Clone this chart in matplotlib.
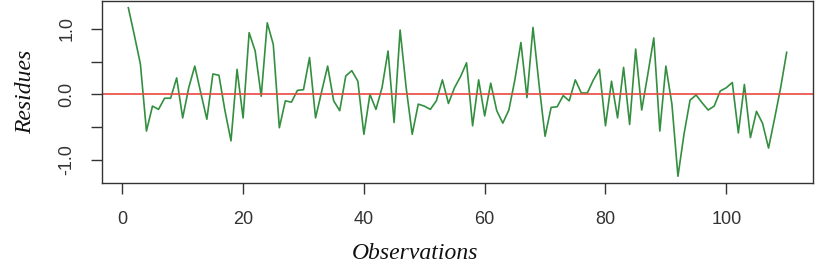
import numpy as np
import matplotlib.pyplot as plt

# residues, observations 1..110
residues = [
    1.32, 0.90, 0.46, -0.56, -0.18, -0.23, -0.06, -0.06, 0.25, -0.36,
    0.10, 0.43, 0.02, -0.38, 0.31, 0.29, -0.25, -0.71, 0.38, -0.36,
    0.94, 0.66, -0.03, 1.09, 0.76, -0.51, -0.10, -0.12, 0.06, 0.07,
    0.56, -0.36, 0.04, 0.43, -0.10, -0.25, 0.28, 0.36, 0.20, -0.61,
    0.00, -0.23, 0.10, 0.66, -0.43, 0.98, 0.10, -0.61, -0.15, -0.18,
    -0.23, -0.10, 0.22, -0.14, 0.10, 0.27, 0.48, -0.48, 0.22, -0.33,
    0.17, -0.25, -0.44, -0.24, 0.22, 0.79, -0.05, 1.02, 0.15, -0.64,
    -0.20, -0.19, -0.02, -0.10, 0.22, 0.02, 0.02, 0.22, 0.38, -0.48,
    0.20, -0.36, 0.41, -0.46, 0.69, -0.24, 0.30, 0.86, -0.56, 0.43,
    -0.15, -1.25, -0.61, -0.09, -0.01, -0.13, -0.24, -0.18, 0.05, 0.10,
    0.18, -0.59, 0.15, -0.66, -0.26, -0.44, -0.82, -0.37, 0.10, 0.64,
]
observations = np.arange(1, len(residues) + 1)

x_ticks = [0, 20, 40, 60, 80, 100]
y_ticks = [-1.0, -0.5, 0.0, 0.5, 1.0]
y_tick_labels = ["-1.0", "", "0.0", "", "1.0"]

fig = plt.figure(figsize=(8.18, 2.66), dpi=100)
ax = fig.add_axes([102 / 818, 1 - 183 / 266, 711 / 818, 182 / 266])

ax.plot(observations, residues, color="#338f3f", lw=1.2)
ax.axhline(0, color="#e94a40", lw=1.2)
ax.margins(x=0.04, y=0.04)

ax.set_xticks(x_ticks)
ax.set_yticks(y_ticks)
ax.set_yticklabels(y_tick_labels, rotation=90, va="center")
ax.tick_params(direction="out", length=8, width=1, color="#333333",
               labelsize=13, labelcolor="#333333")
ax.tick_params(axis="x", pad=12)
ax.tick_params(axis="y", pad=11)
for lab in ax.get_xticklabels() + ax.get_yticklabels():
    lab.set_family("Liberation Sans")

for sp in ax.spines.values():
    sp.set_color("#333333")
    sp.set_linewidth(1)

# x title sits at the very bottom, nudged up so it is not clipped
ax.set_xlabel("Observations", family="Liberation Serif", style="italic",
              fontsize=17, color="#111111", va="center")
ax.xaxis.set_label_coords(0.44, -0.385)
ax.set_ylabel("Residues", family="Liberation Serif", style="italic",
              fontsize=17, color="#111111", va="center")
ax.yaxis.set_label_coords(-0.107, 0.5)

fig.savefig("out.png", dpi=100)
